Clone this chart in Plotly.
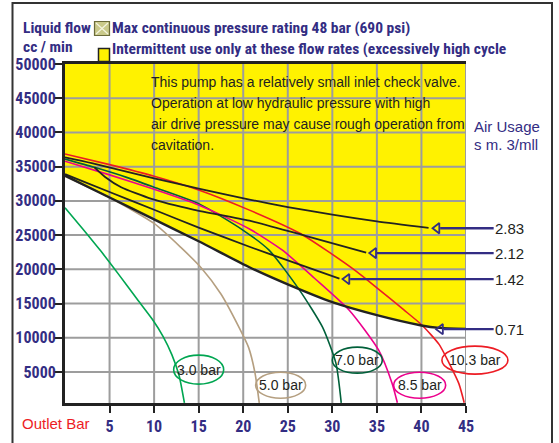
import plotly.graph_objects as go

# ---------------- data ----------------
x_ticks = [5, 10, 15, 20, 25, 30, 35, 40, 45]
y_ticks = [5000, 10000, 15000, 20000, 25000, 30000, 35000, 40000, 45000, 50000]

# air usage curves (black)
air_labels = ["2.83", "2.12", "1.42", "0.71"]
air283_x = [0, 3, 10, 15, 20.7, 25, 30, 35, 40.8]
air283_y = [36350, 35500, 33300, 31800, 30200, 29100, 28000, 27000, 26050]
air212_x = [3.3, 4.5, 6.3, 9.7, 14.5, 20.7, 27, 33.8]
air212_y = [34900, 33500, 32000, 30300, 28700, 27100, 24900, 22450]
air142_x = [0, 5, 10, 15, 20.7, 25, 30.8]
air142_y = [33900, 31300, 28700, 26100, 23300, 21300, 18650]
air071_x = [0, 5, 10, 15, 20.7, 25, 30, 35, 40, 42, 45]
air071_y = [33700, 30500, 27300, 24100, 20300, 17800, 15200, 13300, 11800, 11450, 11300]
arrow_x = [41.2, 34.1, 31.1, 41.6]
arrow_y = [26000, 22370, 18570, 11260]

# outlet pressure curves
p30_x = [0, 2, 4, 6, 8, 9.8, 11, 12, 12.8, 13.4]
p30_y = [29000, 25900, 22700, 19300, 15800, 12700, 10200, 7500, 4500, 500]
p50_x = [0, 5, 10, 13, 15.3, 17.5, 19.5, 20.6, 21.3, 21.8]
p50_y = [33600, 30500, 26700, 23200, 20200, 16400, 11600, 8600, 5000, 500]
p70_x = [0, 3.3, 7, 10, 15, 20, 22.9, 26.3, 28.9, 30.4, 31.0]
p70_y = [36100, 34900, 33400, 32000, 29600, 25700, 22800, 17000, 11550, 6300, 500]
p85_x = [0, 5, 10, 15, 20.7, 24.4, 28, 31.9, 35.2, 36.7, 37.3]
p85_y = [35800, 33800, 31700, 29400, 25900, 22800, 18700, 14030, 8190, 3360, 500]
p103_x = [0, 5, 10, 15, 20.7, 26.3, 29.3, 32.7, 35, 38, 40.1, 42, 43.1, 44.2, 44.8]
p103_y = [36850, 35300, 33600, 31600, 28650, 25300, 22800, 19700, 17300, 14100, 11800, 9000, 6300, 3300, 500]

bar_labels = ["3.0 bar", "5.0 bar", "7.0 bar", "8.5 bar", "10.3 bar"]
bar_x = [15.0, 24.2, 32.8, 39.8, 46.0]
bar_y = [5340, 3070, 6730, 3070, 6730]

note_lines = [
    "This pump has a relatively small inlet check valve.",
    "Operation at low hydraulic pressure with high",
    "air drive pressure may cause rough operation from",
    "cavitation.",
]

# ---------------- style ----------------
W, H = 559, 443
ML, MR, MT, MB = 65, 93, 64, 40
XMIN, XMAX = 0, 45
YMIN, YMAX = 470, 50000
NAVY = "#332d83"
DARK = "#231f20"
YELLOW = "#fff200"
GRID = "#9d9d9d"
NARROW = "Liberation Sans Narrow, Arial Narrow, Roboto Condensed, DejaVu Sans Condensed, sans-serif"
SANS = "Liberation Sans, Arial, sans-serif"
bar_colors = ["#00a651", "#b59f80", "#00603a", "#ec008c", "#ed1c24"]
bar_w = [50, 50, 50, 52, 66]
bar_h = [29, 26, 26, 26, 28]

pw, ph = W - ML - MR, H - MT - MB


def pxx(px):
    return (px - ML) / pw


def pxy(py):
    return (H - MB - py) / ph


def dx(v):
    return (v - XMIN) / (XMAX - XMIN)


def dy(v):
    return (v - YMIN) / (YMAX - YMIN)


fig = go.Figure()

# pressure curves
for xs, ys, col in [(p30_x, p30_y, bar_colors[0]), (p50_x, p50_y, bar_colors[1]),
                    (p70_x, p70_y, bar_colors[2]), (p85_x, p85_y, bar_colors[3]),
                    (p103_x, p103_y, bar_colors[4])]:
    fig.add_trace(go.Scatter(x=xs, y=ys, mode="lines", line=dict(color=col, width=1.6, shape="spline", smoothing=0.6),
                             hoverinfo="skip", showlegend=False))

# air usage curves
for xs, ys, w in [(air283_x, air283_y, 1.8), (air212_x, air212_y, 1.8), (air142_x, air142_y, 1.8),
                  (air071_x, air071_y, 2.4)]:
    fig.add_trace(go.Scatter(x=xs, y=ys, mode="lines", line=dict(color="#222222", width=w, shape="spline", smoothing=0.6),
                             hoverinfo="skip", showlegend=False))

# arrow heads
fig.add_trace(go.Scatter(x=[v + 0.55 for v in arrow_x], y=arrow_y, mode="markers",
                         marker=dict(symbol="triangle-left-open", size=9, color=NAVY, line=dict(width=1.8, color=NAVY)),
                         cliponaxis=False, hoverinfo="skip", showlegend=False))

shapes = []
# yellow intermittent region
pts = list(zip(air071_x, air071_y)) + [(XMAX, YMAX), (XMIN, YMAX)]
path = "M " + " L ".join(f"{a},{b}" for a, b in pts) + " Z"
shapes.append(dict(type="path", path=path, xref="x", yref="y", layer="below",
                   fillcolor=YELLOW, line=dict(width=0)))
# grid lines drawn over the yellow
for v in x_ticks:
    shapes.append(dict(type="line", xref="x", yref="y", x0=v, x1=v, y0=YMIN, y1=YMAX, layer="below",
                       line=dict(color=GRID, width=2)))
for v in y_ticks[:-1]:
    shapes.append(dict(type="line", xref="x", yref="y", x0=XMIN, x1=XMAX, y0=v, y1=v, layer="below",
                       line=dict(color=GRID, width=2)))

# ellipses round the pressure labels
for lx, ly, col, w, h in zip(bar_x, bar_y, bar_colors, bar_w, bar_h):
    shapes.append(dict(type="circle", xref="x domain", yref="y domain",
                       xsizemode="pixel", ysizemode="pixel",
                       xanchor=dx(lx), yanchor=dy(ly),
                       x0=-w / 2, x1=w / 2, y0=-h / 2, y1=h / 2,
                       line=dict(color=col, width=1.6), layer="above"))

# outer frame
shapes.append(dict(type="rect", xref="paper", yref="paper", x0=pxx(12.5), x1=pxx(552), y0=pxy(460), y1=pxy(3),
                   line=dict(color="#333333", width=2)))

# legend icons
shapes.append(dict(type="rect", xref="paper", yref="paper", x0=pxx(94.5), x1=pxx(109.5), y0=pxy(35.5), y1=pxy(21.5),
                   fillcolor="#c9c98a", line=dict(color="#6b6b3a", width=1.2)))
shapes.append(dict(type="path", xref="paper", yref="paper",
                   path=f"M {pxx(96)},{pxy(23)} L {pxx(108)},{pxy(34)} M {pxx(108)},{pxy(23)} L {pxx(96)},{pxy(34)}",
                   line=dict(color="#f4f4e0", width=1.2)))
shapes.append(dict(type="rect", xref="paper", yref="paper", x0=pxx(98.5), x1=pxx(109.5), y0=pxy(61.5), y1=pxy(48.5),
                   fillcolor=YELLOW, line=dict(color="#222222", width=1.5)))

annotations = []
# pressure labels
for lx, ly, t in zip(bar_x, bar_y, bar_labels):
    annotations.append(dict(x=dx(lx), y=dy(ly), xref="x domain", yref="y domain", text=t, showarrow=False,
                            xanchor="center", yanchor="middle",
                            font=dict(family=SANS, size=14, color=DARK)))
# air usage labels with arrows
for tx, ty, t in zip(arrow_x, arrow_y, air_labels):
    annotations.append(dict(x=tx, y=ty, xref="x", yref="y", ax=49.9, ay=ty, axref="x", ayref="y",
                            text=t, showarrow=True, arrowhead=0, arrowwidth=2.4, arrowcolor=NAVY,
                            standoff=8, font=dict(family=SANS, size=15, color=DARK)))
# note text
for i, line in enumerate(note_lines):
    annotations.append(dict(x=pxx(149), y=pxy(81.5 + 21.3 * i), xref="paper", yref="paper", text=line,
                            showarrow=False, xanchor="left", yanchor="middle",
                            font=dict(family=SANS, size=14, color=DARK)))
# air usage title
annotations.append(dict(x=pxx(472), y=pxy(126), xref="paper", yref="paper", text="Air Usage",
                        showarrow=False, xanchor="left", yanchor="middle", font=dict(family=SANS, size=15, color=NAVY)))
annotations.append(dict(x=pxx(472), y=pxy(144), xref="paper", yref="paper", text="s m. 3/mll",
                        showarrow=False, xanchor="left", yanchor="middle", font=dict(family=SANS, size=15, color=NAVY)))
# header
hfont = dict(family=NARROW, size=15.5, color=NAVY, weight=700)
annotations.append(dict(x=pxx(21), y=pxy(28), xref="paper", yref="paper", text="Liquid flow", showarrow=False,
                        xanchor="left", yanchor="middle", font=hfont))
annotations.append(dict(x=pxx(21), y=pxy(46.5), xref="paper", yref="paper", text="cc / min", showarrow=False,
                        xanchor="left", yanchor="middle", font=hfont))
annotations.append(dict(x=pxx(110), y=pxy(28), xref="paper", yref="paper",
                        text="Max continuous pressure rating 48 bar (690 psi)", showarrow=False,
                        xanchor="left", yanchor="middle", font=hfont))
annotations.append(dict(x=pxx(110), y=pxy(49), xref="paper", yref="paper",
                        text="Intermittent use only at these flow rates (excessively high cycle", showarrow=False,
                        xanchor="left", yanchor="middle", font=hfont))
annotations.append(dict(x=pxx(20), y=pxy(423), xref="paper", yref="paper", text="Outlet Bar", showarrow=False,
                        xanchor="left", yanchor="middle", font=dict(family=SANS, size=15, color="#ed1c24")))

tickfont = dict(family=NARROW, size=16, color=NAVY, weight=700)
fig.update_layout(
    template="none",
    width=W, height=H, margin=dict(l=ML, r=MR, t=MT, b=MB, autoexpand=False),
    paper_bgcolor="white", plot_bgcolor="rgba(0,0,0,0)",
    shapes=shapes, annotations=annotations, showlegend=False,
    xaxis=dict(range=[XMIN, XMAX], tickmode="array", tickvals=x_ticks, ticktext=[str(v) for v in x_ticks],
               showgrid=False, zeroline=False, automargin=False,
               showline=True, linecolor="#222222", linewidth=3, mirror=True,
               ticks="outside", ticklen=7, tickwidth=2, tickcolor="#222222", tickfont=tickfont),
    yaxis=dict(range=[YMIN, YMAX], tickmode="array", tickvals=y_ticks, ticktext=[str(v) for v in y_ticks],
               showgrid=False, zeroline=False, automargin=False,
               showline=True, linecolor="#222222", linewidth=3, ticklabelstandoff=-5,
               ticks="outside", ticklen=8, tickwidth=2, tickcolor="#222222", tickfont=tickfont),
)

fig.write_html("out.html", config={"displayModeBar": False},
               post_script="document.body.style.margin='0px';")
